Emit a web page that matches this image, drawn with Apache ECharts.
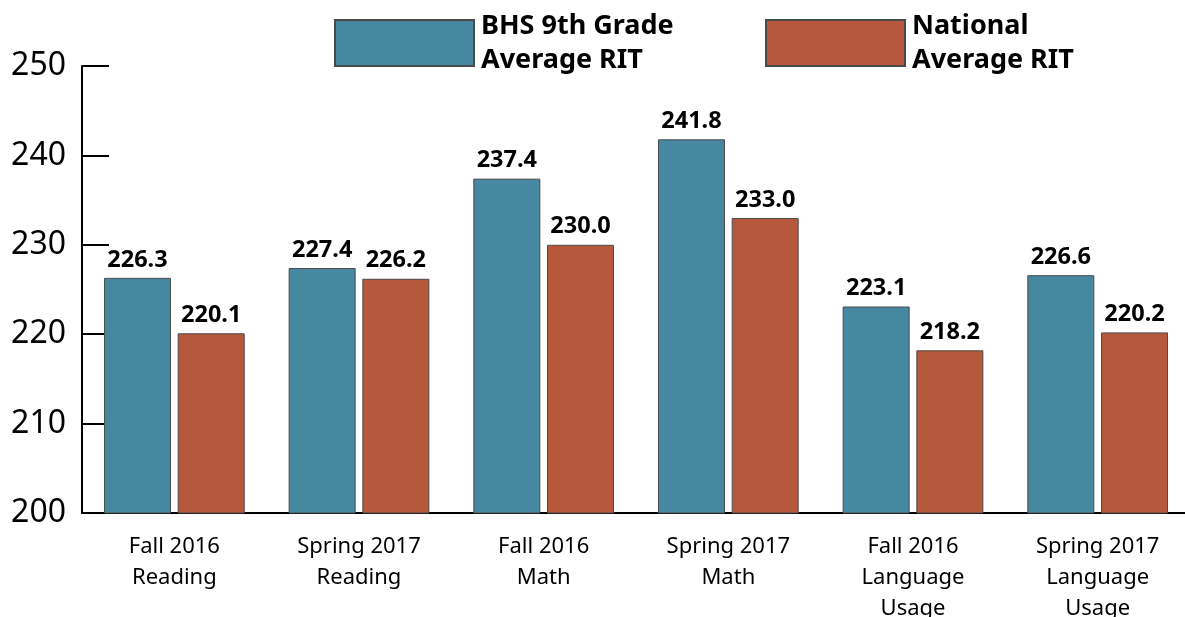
<!DOCTYPE html>
<html><head><meta charset="utf-8">
<script src="https://cdn.jsdelivr.net/npm/echarts@6/dist/echarts.min.js"></script>
<style>html,body{margin:0;padding:0;background:#fff}#c{width:1185px;height:617px}</style>
</head><body><div id="c"></div>
<script>
const categories = ['Fall 2016\nReading','Spring 2017\nReading','Fall 2016\nMath','Spring 2017\nMath','Fall 2016\nLanguage\nUsage','Spring 2017\nLanguage\nUsage'];
const bhsValues = [226.3, 227.4, 237.4, 241.8, 223.1, 226.6];
const nationalValues = [220.1, 226.2, 230.0, 233.0, 218.2, 220.2];
const seriesNames = ['BHS 9th Grade\nAverage RIT', 'National\nAverage RIT'];
const yTicks = {min: 200, max: 250, interval: 10};

const font = '"Noto Sans", "Open Sans", sans-serif';
const chart = echarts.init(document.getElementById('c'));
const labelStyle = {show: true, position: 'top', distance: 6, color: '#000', fontSize: 23.5, fontWeight: 'bold', fontFamily: font, formatter: p => p.value.toFixed(1)};
const legendText = {color: '#000', fontSize: 27, fontWeight: 'bold', fontFamily: font, lineHeight: 34, padding: [0,0,0,2]};
chart.setOption({
  animation: false,
  legend: [
    {data: [seriesNames[0]], left: 334, top: 9, icon: 'rect', itemWidth: 139, itemHeight: 46, itemGap: 0, textStyle: legendText, padding: 0},
    {data: [seriesNames[1]], left: 765, top: 9, icon: 'rect', itemWidth: 139, itemHeight: 46, itemGap: 0, textStyle: legendText, padding: 0}
  ],
  grid: {left: 82, top: 66, width: 1108, bottom: 104, containLabel: false, outerBoundsMode: 'none'},
  xAxis: {
    type: 'category', data: categories,
    axisLine: {lineStyle: {color: '#000', width: 2}},
    axisTick: {inside: true, length: 10, lineStyle: {color: '#000', width: 2}},
    axisLabel: {color: '#000', fontSize: 22, fontFamily: font, lineHeight: 31, margin: 18, interval: 0}
  },
  yAxis: {
    type: 'value', min: yTicks.min, max: yTicks.max, interval: yTicks.interval,
    axisLine: {show: true, lineStyle: {color: '#000', width: 2}},
    axisTick: {show: true, inside: true, length: 27, lineStyle: {color: '#000', width: 2}},
    splitLine: {show: false},
    axisLabel: {color: '#000', fontSize: 32, fontFamily: font, margin: 16, padding: [6, 0, 0, 0]}
  },
  series: [
    {name: seriesNames[0], type: 'bar', data: bhsValues, barWidth: 67, barGap: '10%',
     itemStyle: {color: '#46889F', borderColor: '#4a4a4a', borderWidth: 1}, label: labelStyle},
    {name: seriesNames[1], type: 'bar', data: nationalValues, barWidth: 67,
     itemStyle: {color: '#B5583B', borderColor: '#4a4a4a', borderWidth: 1}, label: labelStyle}
  ]
});
</script></body></html>
